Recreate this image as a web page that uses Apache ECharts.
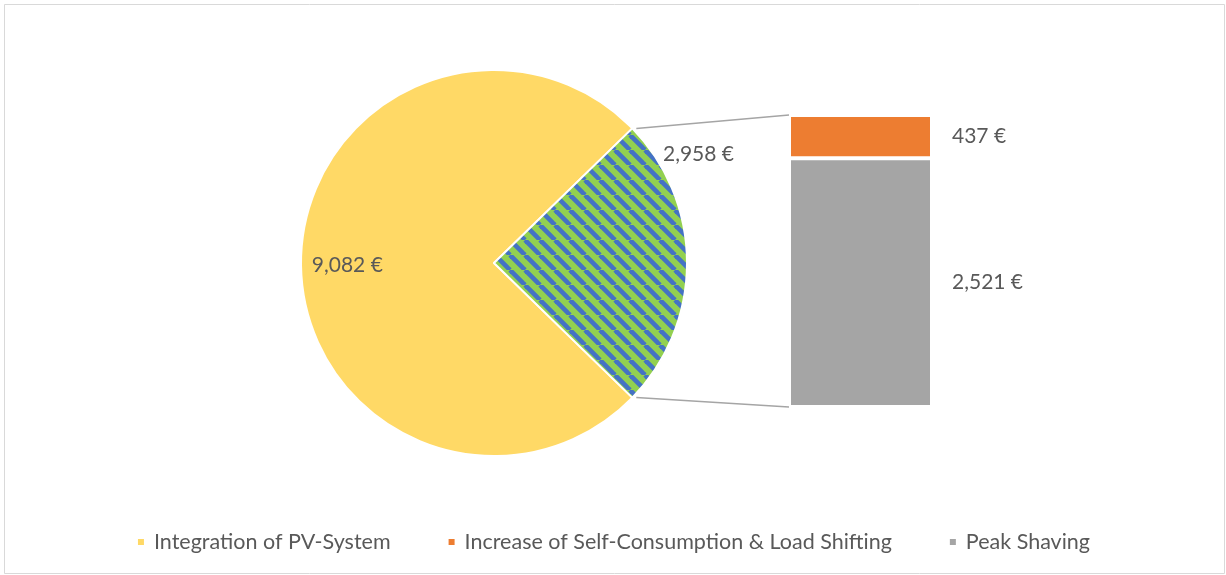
<!DOCTYPE html>
<html>
<head>
<meta charset="utf-8">
<script src="https://cdn.jsdelivr.net/npm/echarts@6/dist/echarts.min.js"></script>
<style>
html,body{margin:0;padding:0;background:#fff;}
#c{width:1226px;height:575px;}
</style>
</head>
<body>
<div id="c"></div>
<script>
const pieNames = ['Integration of PV-System', 'Other'];
const pieValues = [9082, 2958];
const barNames = ['Increase of Self-Consumption & Load Shifting', 'Peak Shaving'];
const barValues = [437, 2521];
const legendNames = ['Integration of PV-System', 'Increase of Self-Consumption & Load Shifting', 'Peak Shaving'];

const FONT = 'Lato';
const TXT = '#595959';
const C_YEL = '#FFD966', C_ORG = '#ED7D31', C_GRY = '#A5A5A5', C_GRN = '#92D050', C_BLU = '#4472C4';

const PIE_C = [494, 263], PIE_R = 193;
const GRID = {left: 789, top: 115, width: 143, height: 292};

function fmt(v){ return v.toLocaleString('en-US') + ' €'; }

// hatch pattern
const P = 15;
const pc = document.createElement('canvas');
pc.width = P; pc.height = P;
const g = pc.getContext('2d');
g.fillStyle = C_GRN; g.fillRect(0,0,P,P);
g.strokeStyle = C_BLU; g.lineWidth = 4.6;
for (const o of [-P, 0, P]) { g.beginPath(); g.moveTo(o, 0); g.lineTo(o + P, P); g.stroke(); }

const total = pieValues[0] + pieValues[1];
const otherAngle = pieValues[1] / total * 360;
const startAngle = -otherAngle / 2;

const barSum = barValues.reduce((a,b)=>a+b,0);

const chart = echarts.init(document.getElementById('c'), null, {renderer:'canvas'});

const option = {
  animation: false,
  backgroundColor: '#fff',
  textStyle: {fontFamily: FONT},
  legend: {
    data: legendNames,
    bottom: 17,
    left: 'center',
    icon: 'rect',
    itemWidth: 8, itemHeight: 8,
    itemGap: 56,
    textStyle: {fontFamily: FONT, fontSize: 21.5, color: TXT, padding: [0,0,0,4]}
  },
  grid: {left: GRID.left, top: GRID.top, width: GRID.width, height: GRID.height},
  xAxis: {type: 'category', data: [''], show: false},
  yAxis: {type: 'value', min: 0, max: barSum, show: false},
  series: [
    {
      type: 'pie',
      center: PIE_C,
      radius: PIE_R,
      startAngle: startAngle,
      clockwise: true,
      avoidLabelOverlap: false,
      itemStyle: {borderColor: '#fff', borderWidth: 2},
      label: {show: true, position: 'inside', formatter: p => fmt(p.value), fontFamily: FONT, fontSize: 21, color: TXT},
      labelLine: {show: false},
      labelLayout: function (p) {
        if (p.dataIndex === 0) {
          return {x: PIE_C[0] - 0.76 * PIE_R, y: PIE_C[1] + 2, align: 'center', verticalAlign: 'middle'};
        }
        const a = 28 * Math.PI / 180, r = 1.2 * PIE_R;
        return {x: PIE_C[0] + r * Math.cos(a), y: PIE_C[1] - r * Math.sin(a), align: 'center', verticalAlign: 'middle'};
      },
      emphasis: {disabled: true},
      data: [
        {name: pieNames[0], value: pieValues[0], itemStyle: {color: C_YEL}},
        {name: pieNames[1], value: pieValues[1], itemStyle: {color: {image: pc, repeat: 'repeat'}}}
      ]
    },
    {
      type: 'bar', name: barNames[1], stack: 's', barWidth: '100%',
      data: [barValues[1]],
      itemStyle: {color: C_GRY, borderColor: '#fff', borderWidth: 2},
      label: {show: true, position: 'right', distance: 20, formatter: p => fmt(p.value), fontFamily: FONT, fontSize: 21, color: TXT},
      emphasis: {disabled: true}
    },
    {
      type: 'bar', name: barNames[0], stack: 's', barWidth: '100%',
      data: [barValues[0]],
      itemStyle: {color: C_ORG, borderColor: '#fff', borderWidth: 2},
      label: {show: true, position: 'right', distance: 20, formatter: p => fmt(p.value), fontFamily: FONT, fontSize: 21, color: TXT},
      emphasis: {disabled: true}
    }
  ]
};
chart.setOption(option);

// connector lines computed from pie geometry and bar scale
const a1 = (-startAngle) * Math.PI / 180;
const upper = [PIE_C[0] + PIE_R * Math.cos(a1) + 4, PIE_C[1] - PIE_R * Math.sin(a1)];
const lower = [PIE_C[0] + PIE_R * Math.cos(a1) + 4, PIE_C[1] + PIE_R * Math.sin(a1)];
const yTop = chart.convertToPixel({yAxisIndex: 0}, barSum);
const yBot = chart.convertToPixel({yAxisIndex: 0}, 0);
const xLeft = GRID.left;
chart.setOption({
  graphic: [
    {type: 'line', shape: {x1: upper[0], y1: upper[1], x2: xLeft, y2: yTop}, style: {stroke: '#A5A5A5', lineWidth: 1.5}},
    {type: 'line', shape: {x1: lower[0], y1: lower[1], x2: xLeft, y2: yBot}, style: {stroke: '#A5A5A5', lineWidth: 1.5}},
    {type: 'rect', shape: {x: 4.5, y: 4.5, width: 1220, height: 569}, style: {fill: 'none', stroke: '#D9D9D9', lineWidth: 1}, silent: true}
  ]
});
</script>
</body>
</html>
